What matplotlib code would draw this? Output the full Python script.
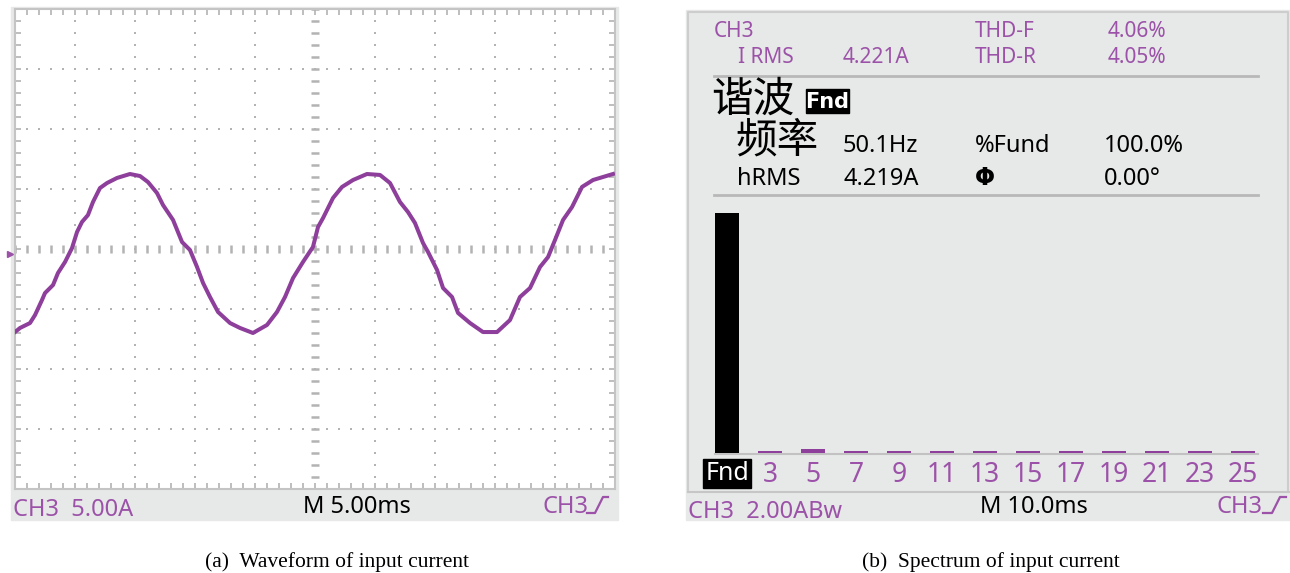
import matplotlib.pyplot as plt
import numpy as np
from matplotlib.patches import Rectangle

plt.rcParams['font.family'] = ['Noto Sans', 'Noto Sans CJK SC', 'DejaVu Sans']

# (a) input current trace: time in ms, current in A
t_ms = [0.0, 0.42, 1.25, 1.67, 2.25, 2.5, 3.17, 3.58, 4.17, 4.75, 5.17, 5.58,
        6.08, 6.5, 7.08, 7.67, 8.5, 9.58, 10.42, 11.08, 11.83, 12.33, 13.17,
        13.92, 14.58, 15.17, 15.67, 16.25, 16.92, 17.92, 18.75, 19.83, 21.0,
        21.83, 22.5, 23.17, 24.0, 24.83, 25.25, 25.67, 26.5, 27.25, 28.17,
        29.33, 30.42, 31.25, 32.08, 32.75, 33.33, 34.0, 34.42, 35.17, 35.67,
        36.42, 36.92, 37.92, 39.0, 40.17, 41.25, 42.08, 42.92, 43.75, 44.42,
        45.0, 45.67, 46.42, 47.25, 48.17, 49.83]
i_a = [-6.92, -6.58, -6.17, -5.5, -4.25, -3.67, -3.0, -2.0, -1.08, 0.08, 1.42, 2.25,
       2.83, 3.92, 5.08, 5.5, 5.92, 6.25, 6.08, 5.58, 4.67, 3.67, 2.42,
       0.58, -0.08, -1.5, -2.83, -4.0, -5.25, -6.17, -6.58, -7.0, -6.33,
       -5.25, -4.0, -2.42, -1.08, 0.17, 1.83, 2.58, 4.25, 5.17, 5.75,
       6.25, 6.17, 5.5, 3.92, 3.08, 2.17, 0.5, -0.25, -1.75, -3.25,
       -4.0, -5.33, -6.17, -6.92, -6.92, -5.92, -4.0, -3.25, -1.5, -0.67,
       0.75, 2.42, 3.5, 5.17, 5.75, 6.25]

# (b) harmonic spectrum, % of fundamental
harmonics = ['Fnd', '3', '5', '7', '9', '11', '13', '15', '17', '19', '21', '23', '25']
harm_pct = [100, 1.0, 1.8, 0.9, 0.9, 0.9, 0.9, 0.9, 0.9, 0.9, 0.9, 0.9, 0.9]

# readouts on the power analyser screen
header_left = [('CH3', ''), ('I RMS', '4.221A')]
header_right = [('THD-F', '4.06%'), ('THD-R', '4.05%')]
detail_rows = [('频率', '50.1Hz', '%Fund', '100.0%'), ('hRMS', '4.219A', 'Φ', '0.00°')]

W, H = 1290, 573
purple = '#8e3f9b'
tpurple = '#9b52a8'
panel = '#e7e8e8'
gridc = '#b3b3b3'


def box(x0, y0, x1, y1):
    return [x0 / W, 1 - y1 / H, (x1 - x0) / W, (y1 - y0) / H]


fig = plt.figure(figsize=(W / 100, H / 100), dpi=100)
bg = fig.add_axes([0, 0, 1, 1])
bg.set_xlim(0, W)
bg.set_ylim(H, 0)
bg.axis('off')

# ---- left: oscilloscope ----
bg.add_patch(Rectangle((11, 7), 607, 513, color=panel, zorder=0))
ax1 = fig.add_axes(box(15, 9, 615, 489))
ax1.set_xlim(0, 50)
ax1.set_ylim(-20, 20)
for s in ax1.spines.values():
    s.set_color('#c4c4c4')
    s.set_linewidth(1.5)
ax1.set_xticks(np.arange(0, 51, 1))
ax1.set_yticks(np.arange(-20, 21, 1))
ax1.tick_params(direction='in', length=4, width=1.2, color=gridc, top=True, right=True,
                labelbottom=False, labelleft=False)

# graticule dots, center cross with dashes
yy = np.arange(-20, 21, 1)
xx = np.arange(0, 51, 1)
for k in range(1, 10):
    if k == 5:
        ax1.plot(np.full(len(yy), 25), yy, ls='none', marker='_', ms=6, mew=1.8, color=gridc)
    else:
        ax1.plot(np.full(len(yy), 5 * k), yy, ls='none', marker='s', ms=1.8, mew=0, color=gridc)
for j in range(-3, 4):
    if j == 0:
        ax1.plot(xx, np.zeros(len(xx)), ls='none', marker='|', ms=6, mew=1.8, color=gridc)
    else:
        ax1.plot(xx, np.full(len(xx), 5 * j), ls='none', marker='s', ms=1.8, mew=0, color=gridc)

ax1.plot(t_ms, i_a, color=purple, lw=2.9, solid_joinstyle='round', zorder=5)

# trigger / ground markers
bg.plot([315, 315], [10, 17], color='black', lw=2)
bg.plot(315, 20, marker='v', ms=9, color='black')
bg.plot(10, 254, marker='>', ms=5, color=tpurple)
bg.plot(605, 253, marker='<', ms=8, color=tpurple)
bg.plot([605, 614], [253, 253], color=tpurple, lw=2)

sfont = dict(fontsize=17, va='baseline')
bg.text(13, 516, 'CH3  5.00A', color=tpurple, **sfont)
bg.text(357, 513, 'M 5.00ms', color='black', ha='center', **sfont)
bg.text(542, 513, 'CH3', color=tpurple, **sfont)
bg.plot([587, 595, 603, 608], [513, 513, 497, 497], color=tpurple, lw=1.6)

# ---- right: power analyser ----
bg.add_patch(Rectangle((686, 10), 604, 510, color=panel, zorder=0))
bg.plot([688, 688, 1288, 1288], [492, 12, 12, 492], color='#cdcdcd', lw=1.5)
bg.plot([688, 1290], [492, 492], color='#c6c6c6', lw=1.5)

hfont = dict(fontsize=15, va='baseline', color=tpurple)
bg.text(714, 37, header_left[0][0], **hfont)
bg.text(738, 63, header_left[1][0], **hfont)
bg.text(843, 63, header_left[1][1], **hfont)
bg.text(975, 37, header_right[0][0], **hfont)
bg.text(1108, 37, header_right[0][1], **hfont)
bg.text(975, 63, header_right[1][0], **hfont)
bg.text(1108, 63, header_right[1][1], **hfont)
bg.plot([714, 1258], [76, 76], color='#b8b8b8', lw=2)
bg.plot([714, 1258], [195, 195], color='#b8b8b8', lw=2)

cjk = ['Noto Sans CJK SC', 'DejaVu Sans']
bg.text(711, 100, '谐波', fontsize=30, va='center', family=cjk)
bg.add_patch(Rectangle((806, 89), 43, 24, color='black'))
bg.text(827.5, 101.5, 'Fnd', color='white', fontsize=15, fontweight='bold', ha='center', va='center',
        family=['DejaVu Sans'])

dfont = dict(fontsize=17, va='baseline', color='black')
bg.text(735, 141, detail_rows[0][0], fontsize=30, va='center', family=cjk)
bg.text(843, 152, detail_rows[0][1], **dfont)
bg.text(975, 152, detail_rows[0][2], **dfont)
bg.text(1104, 152, detail_rows[0][3], **dfont)
bg.text(737, 185, detail_rows[1][0], **dfont)
bg.text(843, 185, detail_rows[1][1], **dfont)
bg.text(975, 185, detail_rows[1][2], fontsize=17, fontweight='bold', va='baseline', family=['DejaVu Sans'])
bg.text(1104, 185, detail_rows[1][3], **dfont)

ax2 = fig.add_axes(box(705.5, 213, 1264.5, 453))
ax2.set_facecolor('none')
ax2.bar(range(len(harmonics)), harm_pct, width=0.56,
        color=['black'] + [purple] * (len(harmonics) - 1))
ax2.set_xlim(-0.5, len(harmonics) - 0.5)
ax2.set_ylim(0, 100)
for s in ax2.spines.values():
    s.set_visible(False)
ax2.set_yticks([])
ax2.set_xticks(range(len(harmonics)), labels=harmonics)
ax2.tick_params(axis='x', length=0, pad=6, labelsize=19, labelcolor=tpurple)
fl = ax2.get_xticklabels()[0]
fl.set_color('white')
fl.set_fontsize(18)
fl.set_bbox(dict(facecolor='black', edgecolor='black', pad=1.5))
bg.plot([715, 1258], [453.5, 453.5], color='#c2c2c2', lw=1.5, zorder=1)

bg.text(688, 518, 'CH3  2.00ABw', color=tpurple, **sfont)
bg.text(1034, 513, 'M 10.0ms', color='black', ha='center', **sfont)
bg.text(1217, 513, 'CH3', color=tpurple, **sfont)
bg.plot([1263, 1272, 1280, 1286], [513, 513, 497, 497], color=tpurple, lw=1.6)

# captions
cfont = dict(fontsize=15.5, ha='center', va='center', family=['Liberation Serif', 'DejaVu Serif'])
bg.text(337, 562, '(a)  Waveform of input current', **cfont)
bg.text(991, 562, '(b)  Spectrum of input current', **cfont)

fig.savefig('out.png', dpi=100)
